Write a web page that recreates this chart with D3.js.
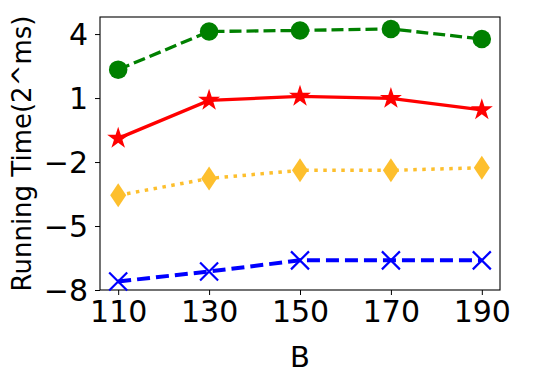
<!DOCTYPE html>
<html>
<head>
<meta charset="utf-8">
<script src="https://cdn.jsdelivr.net/npm/d3@7"></script>
<style>
  body { margin: 0; background: #fff; }
  text { font-family: "DejaVu Sans", sans-serif; fill: #000; }
</style>
</head>
<body>
<div id="chart"></div>
<script>
// chart data
var bValues = [110, 130, 150, 170, 190];
var yTicks = [4, 1, -2, -5, -8];
var greenSeries = [2.33, 4.12, 4.17, 4.24, 3.77];
var redSeries = [-0.89, 0.89, 1.08, 0.98, 0.45];
var yellowSeries = [-3.56, -2.77, -2.39, -2.39, -2.27];
var blueSeries = [-7.6, -7.13, -6.61, -6.61, -6.61];

var width = 548, height = 386;
var margin = { top: 17, right: 48, bottom: 96, left: 100 };

var svg = d3.select("#chart").append("svg")
	.attr("width", width)
	.attr("height", height);

var x = d3.scaleLinear()
	.domain([106, 194])
	.range([margin.left, width - margin.right]);

var y = d3.scaleLinear()
	.domain([-8, 4.8])
	.range([height - margin.bottom, margin.top]);

var fmt = function(d) { return d < 0 ? "\u2212" + Math.abs(d) : String(d); };

// axes
var xAxis = svg.append("g")
	.attr("transform", "translate(0," + (height - margin.bottom) + ")")
	.call(d3.axisBottom(x).tickValues(bValues).tickSize(5).tickPadding(4).tickFormat(d3.format("d")));
xAxis.select(".domain").remove();
xAxis.selectAll("text").style("font-size", "30px").attr("dy", "0.75em");

var yAxis = svg.append("g")
	.attr("transform", "translate(" + margin.left + ",0)")
	.call(d3.axisLeft(y).tickValues(yTicks).tickSize(5).tickPadding(7).tickFormat(fmt));
yAxis.select(".domain").remove();
yAxis.selectAll("text").style("font-size", "30px").attr("dy", "0.36em");
svg.selectAll(".tick line").attr("stroke", "#000").attr("stroke-width", 1);

// frame
svg.append("rect")
	.attr("x", margin.left)
	.attr("y", margin.top)
	.attr("width", width - margin.left - margin.right)
	.attr("height", height - margin.top - margin.bottom)
	.attr("fill", "none")
	.attr("stroke", "#000")
	.attr("stroke-width", 1.1);

// labels
svg.append("text")
	.attr("x", x(150))
	.attr("y", 367)
	.attr("text-anchor", "middle")
	.style("font-size", "29px")
	.text("B");

svg.append("text")
	.attr("transform", "translate(31," + ((margin.top + height - margin.bottom) / 2) + ") rotate(-90)")
	.attr("text-anchor", "middle")
	.style("font-size", "26px")
	.text("Running Time(2^ms)");

var line = d3.line()
	.x(function(d, i) { return x(bValues[i]); })
	.y(function(d) { return y(d); });

var series = [
	{ values: greenSeries, color: "#008000", width: 3.3, dash: "12,5", marker: "circle" },
	{ values: redSeries, color: "#ff0000", width: 3.3, dash: null, marker: "star" },
	{ values: yellowSeries, color: "#fdbf2d", width: 3.5, dash: "3.5,5.5", marker: "diamond" },
	{ values: blueSeries, color: "#0000ff", width: 4, dash: "13,6", marker: "x" }
];

var plot = svg.append("g");

series.forEach(function(s) {
	plot.append("path")
		.datum(s.values)
		.attr("d", line)
		.attr("fill", "none")
		.attr("stroke", s.color)
		.attr("stroke-width", s.width)
		.attr("stroke-dasharray", s.dash);

	var marks = plot.selectAll(null)
		.data(s.values)
		.enter()
		.append("path")
		.attr("transform", function(d, i) { return "translate(" + x(bValues[i]) + "," + y(d) + ")"; });

	if (s.marker === "circle") {
		marks.attr("d", d3.symbol(d3.symbolCircle, 270)).attr("fill", s.color);
	} else if (s.marker === "star") {
		marks.attr("d", d3.symbol(d3.symbolStar, 150)).attr("fill", s.color);
	} else if (s.marker === "diamond") {
		marks.attr("d", "M0,-12L8,0L0,12L-8,0Z").attr("fill", s.color);
	} else {
		marks.attr("d", "M-9,-9L9,9M-9,9L9,-9").attr("fill", "none")
			.attr("stroke", s.color).attr("stroke-width", 2.2);
	}
});
</script>
</body>
</html>
